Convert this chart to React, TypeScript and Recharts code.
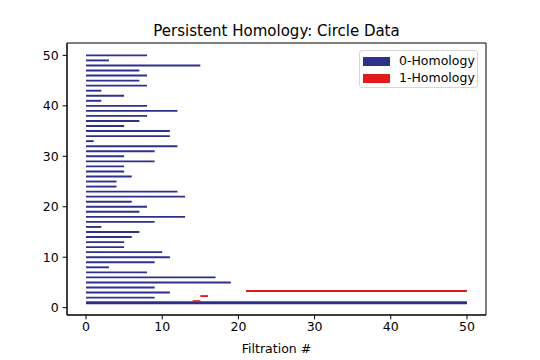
import React from "react";
import {
  ComposedChart,
  XAxis,
  YAxis,
  ReferenceLine,
  ReferenceArea,
  Scatter,
} from "recharts";

// 0-Homology bars (index y = 1..50), births and deaths
const h0Y = [
  1, 2, 3, 4, 5, 6, 7, 8, 9, 10, 11, 12, 13, 14, 15, 16, 17, 18, 19, 20, 21, 22, 23, 24, 25,
  26, 27, 28, 29, 30, 31, 32, 33, 34, 35, 36, 37, 38, 39, 40, 41, 42, 43, 44, 45, 46, 47, 48, 49, 50,
];
const h0Birth = [
  0, 0, 0, 0, 0, 0, 0, 0, 0, 0, 0, 0, 0, 0, 0, 0, 0, 0, 0, 0, 0, 0, 0, 0, 0,
  0, 0, 0, 0, 0, 0, 0, 0, 0, 0, 0, 0, 0, 0, 0, 0, 0, 0, 0, 0, 0, 0, 0, 0, 0,
];
const h0Death = [
  50, 9, 11, 9, 19, 17, 8, 3, 9, 11, 10, 5, 5, 6, 7, 2, 9, 13, 7, 8, 6, 13, 12, 4, 4,
  6, 5, 5, 9, 5, 9, 12, 1, 11, 11, 5, 7, 8, 12, 8, 2, 5, 2, 8, 7, 8, 7, 15, 3, 8,
];

// 1-Homology bars
const h1Y = [1.3, 2.3, 3.3];
const h1Birth = [14, 15, 21];
const h1Death = [15, 16, 50];

const xTicks = [0, 10, 20, 30, 40, 50];
const yTicks = [0, 10, 20, 30, 40, 50];
const xDomain = [-2.5, 52.5];
const yDomain = [-1.45, 52.45];

const legendItems = ["0-Homology", "1-Homology"];

const BLUE = "#2f2f8c";
const RED = "#e31a1c";
const FONT = "DejaVu Sans, sans-serif";

const h0Bars = h0Y.map((y, i) => ({ y, birth: h0Birth[i], death: h0Death[i] }));
const h1Bars = h1Y.map((y, i) => ({ y, birth: h1Birth[i], death: h1Death[i] }));
const endPoints = [...h0Bars, ...h1Bars].map((b) => ({ x: b.death, y: b.y }));

const LegendBox = () => (
  <div
    style={{
      position: "absolute",
      left: 359,
      top: 50,
      width: 119,
      height: 38,
      border: "1px solid #d6d6d6",
      borderRadius: 3,
      background: "rgba(255,255,255,0.8)",
      fontFamily: FONT,
      fontSize: 12.5,
      color: "#000",
      boxSizing: "border-box",
    }}
  >
    {legendItems.map((name, i) => (
      <div
        key={name}
        style={{ position: "absolute", left: 3, top: 5 + i * 17, height: 10, display: "flex", alignItems: "center" }}
      >
        <div style={{ width: 27, height: 9, background: i === 0 ? BLUE : RED }} />
        <span style={{ marginLeft: 9, lineHeight: "10px", whiteSpace: "nowrap" }}>{name}</span>
      </div>
    ))}
  </div>
);

export default function App() {
  return (
    <div style={{ position: "absolute", left: 0, top: 0, width: 540, height: 360, background: "#fff" }}>
      <div
        style={{
          position: "absolute",
          left: 67,
          width: 419,
          top: 22,
          textAlign: "center",
          fontFamily: FONT,
          fontSize: 15,
          lineHeight: "18px",
          color: "#000",
        }}
      >
        Persistent Homology: Circle Data
      </div>
      <ComposedChart
        width={540}
        height={360}
        margin={{ top: 43, right: 54, bottom: 0, left: 0 }}
        style={{ fontFamily: FONT }}
      >
        <XAxis
          xAxisId="b"
          type="number"
          dataKey="x"
          domain={xDomain}
          allowDataOverflow
          ticks={xTicks}
          height={45}
          tickSize={4.4}
          tickMargin={3}
          stroke="#000"
          tick={{ fill: "#000", fontSize: 12.5, fontFamily: FONT }}
          label={{ value: "Filtration #", position: "insideBottom", offset: 7, fill: "#000", fontSize: 12.5, fontFamily: FONT }}
        />
        <YAxis
          yAxisId="l"
          type="number"
          dataKey="y"
          domain={yDomain}
          allowDataOverflow
          ticks={yTicks}
          width={67}
          tickSize={4.4}
          tickMargin={4}
          stroke="#000"
          tick={{ fill: "#000", fontSize: 12.5, fontFamily: FONT }}
        />
        <ReferenceArea
          xAxisId="b"
          yAxisId="l"
          x1={xDomain[0]}
          x2={xDomain[1]}
          y1={yDomain[0]}
          y2={yDomain[1]}
          fill="none"
          fillOpacity={0}
          stroke="#000"
          strokeWidth={1}
          ifOverflow="visible"
        />
        <Scatter
          xAxisId="b"
          yAxisId="l"
          data={endPoints}
          isAnimationActive={false}
          shape={() => <g />}
          legendType="none"
        />
        {h0Bars.map((b, i) => (
          <ReferenceLine
            key={"h0" + i}
            xAxisId="b"
            yAxisId="l"
            segment={[
              { x: b.birth, y: b.y },
              { x: b.death, y: b.y },
            ]}
            stroke={BLUE}
            strokeWidth={b.death === 50 ? 3 : 1.9}
            ifOverflow="visible"
          />
        ))}
        {h1Bars.map((b, i) => (
          <ReferenceLine
            key={"h1" + i}
            xAxisId="b"
            yAxisId="l"
            segment={[
              { x: b.birth, y: b.y },
              { x: b.death, y: b.y },
            ]}
            stroke={RED}
            strokeWidth={1.9}
            ifOverflow="visible"
          />
        ))}
      </ComposedChart>
      <LegendBox />
    </div>
  );
}
